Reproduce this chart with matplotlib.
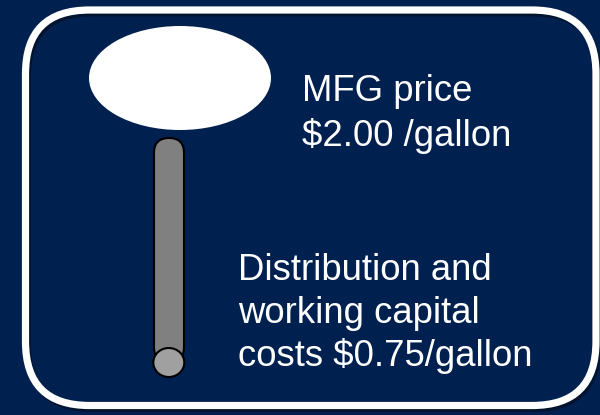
import matplotlib
matplotlib.use("Agg")
import matplotlib.pyplot as plt
from matplotlib.patches import FancyBboxPatch, Ellipse

# ---- content ----
mfg_price = 2.00
dist_cost = 0.75
top_lines = ["MFG price", f"${mfg_price:.2f} /gallon"]
bottom_lines = ["Distribution and", "working capital", f"costs ${dist_cost:.2f}/gallon"]

NAVY = "#00204F"
FONT = "Liberation Sans"
FS = 26.3

fig = plt.figure(figsize=(6.0, 4.15), dpi=100, facecolor=NAVY)
ax = fig.add_axes([0, 0, 1, 1])
ax.set_xlim(0, 600)
ax.set_ylim(415, 0)
ax.set_facecolor(NAVY)
ax.axis("off")

# rounded frame with a faint shadow
shadow = FancyBboxPatch((27.5, 13), 596 - 25.5, 405.5 - 10,
                        boxstyle="round,pad=0,rounding_size=64",
                        fill=False, ec="#00132f", lw=5.0, zorder=1)
ax.add_patch(shadow)
frame = FancyBboxPatch((25.5, 10), 596 - 25.5, 405.5 - 10,
                       boxstyle="round,pad=0,rounding_size=64",
                       fill=False, ec="white", lw=5.2, zorder=2)
ax.add_patch(frame)

# lollipop head
ax.add_patch(Ellipse((180, 78), 182, 104, fc="white", ec="none", zorder=3))

# stick
stick = FancyBboxPatch((154, 138), 30, 224,
                       boxstyle="round,pad=0,rounding_size=15",
                       fc="#808080", ec="black", lw=1.5, zorder=3)
ax.add_patch(stick)
ax.add_patch(Ellipse((168.8, 362.5), 31, 29, fc="#A0A0A0", ec="black",
                     lw=1.5, zorder=4))

# labels
top_baselines = [100.5, 145.5]
for txt, yb in zip(top_lines, top_baselines):
    ax.text(302, yb, txt, color="white", fontsize=FS, family=FONT,
            ha="left", va="baseline", zorder=5)

bottom_baselines = [279.5, 323, 366]
for txt, yb in zip(bottom_lines, bottom_baselines):
    ax.text(238, yb, txt, color="white", fontsize=FS, family=FONT,
            ha="left", va="baseline", zorder=5)

fig.savefig("out.png", dpi=100, facecolor=NAVY)
